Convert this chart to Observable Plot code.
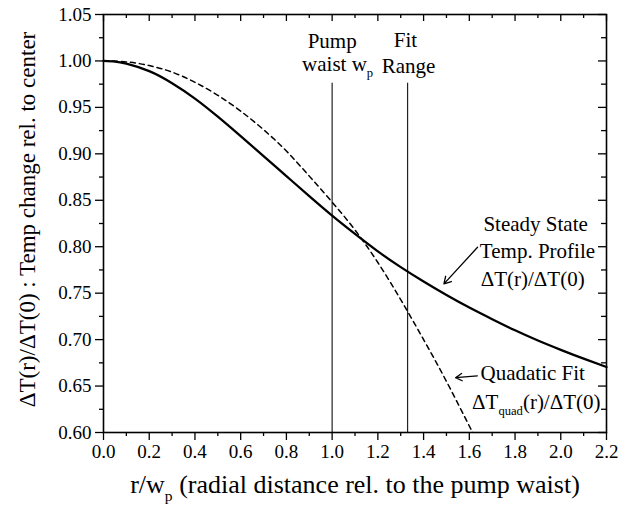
<!DOCTYPE html>
<html><head><meta charset="utf-8">
<script src="https://cdn.jsdelivr.net/npm/d3@7"></script>
<script src="https://cdn.jsdelivr.net/npm/@observablehq/plot@0.6"></script>
<style>
body{margin:0;background:#fff;}
svg{font-family:"Liberation Serif","Times New Roman",serif;}
</style>
</head><body><div id="chart"></div>
<script>
// Steady state temperature profile ΔT(r)/ΔT(0)
const steadyR = [0, 0.05, 0.1, 0.2, 0.3, 0.4, 0.5, 0.6, 0.7, 0.8, 0.9, 1.0, 1.1, 1.2, 1.3, 1.4, 1.5, 1.6, 1.7, 1.8, 1.9, 2.0, 2.1, 2.2];
const steadyT = [1.000, 0.9993, 0.997, 0.989, 0.976, 0.9595, 0.940, 0.919, 0.8975, 0.876, 0.8545, 0.8335, 0.8138, 0.795, 0.778, 0.7625, 0.748, 0.7345, 0.722, 0.710, 0.699, 0.689, 0.6795, 0.6705];
// Quadratic fit ΔTquad(r)/ΔT(0)
const quadR = [0, 0.1, 0.2, 0.3, 0.4, 0.5, 0.6, 0.7, 0.8, 0.9, 1.0, 1.1, 1.2, 1.3, 1.4, 1.5, 1.6, 1.615];
const quadT = [1.000, 0.999, 0.995, 0.988, 0.977, 0.963, 0.946, 0.926, 0.903, 0.876, 0.848, 0.818, 0.783, 0.743, 0.700, 0.655, 0.607, 0.600];
// Marker lines: pump waist and fit range
const markerX = [1.0, 1.33];
const markerTop = 0.976;
// Ticks
const xMajor = [0, 0.2, 0.4, 0.6, 0.8, 1.0, 1.2, 1.4, 1.6, 1.8, 2.0, 2.2];
const xMinor = [0.1, 0.3, 0.5, 0.7, 0.9, 1.1, 1.3, 1.5, 1.7, 1.9, 2.1];
const yMajor = [0.60, 0.65, 0.70, 0.75, 0.80, 0.85, 0.90, 0.95, 1.00, 1.05];
const yMinor = [0.625, 0.675, 0.725, 0.775, 0.825, 0.875, 0.925, 0.975, 1.025];
// Texts
const xTitle = "r/w_{p} (radial distance rel. to the pump waist)";
const yTitle = "ΔT(r)/ΔT(0) : Temp change rel. to center";

const steady = steadyR.map((r, i) => ({r, t: steadyT[i]}));
const quad = quadR.map((r, i) => ({r, t: quadT[i]}));

const W = 639, H = 515, mL = 103, mR = 33, mT = 14, mB = 83;
const innerW = W - mL - mR, innerH = H - mT - mB;

const centerLabels = [
  {x: 1.0, y: 1.0134, text: "Pump"},
  {x: 1.024, y: 0.9897, text: "waist w_{p}"},
  {x: 1.321, y: 1.0145, text: "Fit"},
  {x: 1.334, y: 0.9865, text: "Range"},
  {x: 1.89, y: 0.8174, text: "Steady State"},
  {x: 1.898, y: 0.7883, text: "Temp. Profile"},
  {x: 1.877, y: 0.7581, text: "ΔT(r)/ΔT(0)"}
];
const startLabels = [
  {x: 1.649, y: 0.656, text: "Quadatic Fit"},
  {x: 1.612, y: 0.6257, text: "ΔT_{quad}(r)/ΔT(0)"}
];
const arrows = [
  {x1: 1.636, y1: 0.7994, x2: 1.489, y2: 0.760},
  {x1: 1.635, y1: 0.661, x2: 1.540, y2: 0.659}
];

const plot = Plot.plot({
  width: W, height: H,
  marginLeft: mL, marginRight: mR, marginTop: mT, marginBottom: mB,
  x: {domain: [0, 2.2]},
  y: {domain: [0.60, 1.05]},
  style: {fontFamily: "Liberation Serif, serif", fontSize: "19px", color: "#000", background: "#fff", overflow: "visible"},
  marks: [
    Plot.axisX(xMajor, {tickSize: 8, tickPadding: 4, tickFormat: d3.format(".1f"), fontSize: 19, label: null, strokeWidth: 1.3}),
    Plot.axisX(xMinor, {tickSize: 4, tickFormat: () => "", label: null, strokeWidth: 1.3}),
    Plot.axisY(yMajor, {tickSize: 8, tickPadding: 4, tickFormat: d3.format(".2f"), fontSize: 19, label: null, strokeWidth: 1.3}),
    Plot.axisY(yMinor, {tickSize: 4, tickFormat: () => "", label: null, strokeWidth: 1.3}),
    Plot.tickX(xMajor, {x: d => d, insetBottom: innerH - 7, strokeWidth: 1.3}),
    Plot.tickX(xMinor, {x: d => d, insetBottom: innerH - 4, strokeWidth: 1.3}),
    Plot.tickY(yMajor, {y: d => d, insetLeft: innerW - 8, strokeWidth: 1.3}),
    Plot.tickY(yMinor, {y: d => d, insetLeft: innerW - 5, strokeWidth: 1.3}),
    Plot.ruleX(markerX, {x: d => d, y1: 0.60, y2: markerTop, stroke: "#222", strokeWidth: 1.2}),
    Plot.line(quad, {x: "r", y: "t", stroke: "#000", strokeWidth: 1.5, strokeDasharray: "5,4", curve: "natural", clip: true}),
    Plot.line(steady, {x: "r", y: "t", stroke: "#000", strokeWidth: 2.3, curve: "natural"}),
    Plot.arrow(arrows, {x1: "x1", y1: "y1", x2: "x2", y2: "y2", stroke: "#000", strokeWidth: 1.3, headLength: 9}),
    Plot.text(centerLabels, {x: "x", y: "y", text: "text", textAnchor: "middle", lineAnchor: "bottom", fontSize: 21, fill: "#000"}),
    Plot.text(startLabels, {x: "x", y: "y", text: "text", textAnchor: "start", lineAnchor: "bottom", fontSize: 21, fill: "#000"}),
    Plot.text([xTitle], {frameAnchor: "bottom", dy: 60, textAnchor: "middle", lineAnchor: "bottom", fontSize: 26, fill: "#000"}),
    Plot.text([yTitle], {frameAnchor: "left", dx: -76, dy: -4, rotate: -90, textAnchor: "middle", lineAnchor: "middle", fontSize: 23, fill: "#000"}),
    Plot.frame({stroke: "#000", strokeWidth: 1.6})
  ]
});

document.getElementById("chart").appendChild(plot);

// Render subscripts written as _{...}
d3.select(plot).selectAll("text").each(function() {
  const t = this.textContent;
  if (!t.includes("_{")) return;
  const fs = parseFloat(getComputedStyle(this).fontSize) || 20;
  const shift = fs * 0.32;
  const parts = t.split(/(_\{[^}]*\})/).filter(p => p);
  const sel = d3.select(this);
  sel.text(null);
  let down = false;
  for (const p of parts) {
    if (p.startsWith("_{")) {
      sel.append("tspan").attr("font-size", (fs * 0.6) + "px").attr("dy", shift).text(p.slice(2, -1));
      down = true;
    } else {
      const ts = sel.append("tspan").text(p);
      if (down) { ts.attr("dy", -shift); down = false; }
    }
  }
});
</script>
</body></html>
